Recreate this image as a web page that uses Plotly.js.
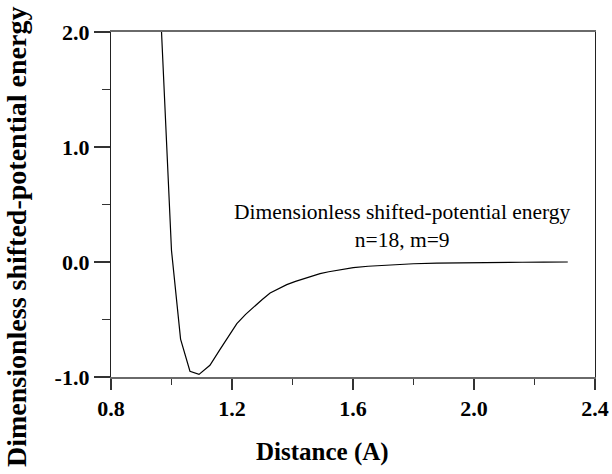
<!DOCTYPE html>
<html>
<head>
<meta charset="utf-8">
<script src="https://cdn.plot.ly/plotly-3.0.1.min.js"></script>
<style>
  html, body { margin: 0; padding: 0; background: #fff; }
  #plot { width: 612px; height: 474px; }
</style>
</head>
<body>
<div id="plot"></div>
<script>
// Mie-type pair potential, n=18, m=9 (reduced units)
const distance = [0.967, 1.000, 1.030, 1.061, 1.091, 1.127, 1.160, 1.190, 1.216, 1.245,
                  1.271, 1.300, 1.326, 1.355, 1.381, 1.410, 1.436, 1.465, 1.491, 1.520,
                  1.546, 1.575, 1.601, 1.650, 1.700, 1.750, 1.800, 1.877, 1.950, 2.020,
                  2.090, 2.160, 2.230, 2.310];
const energy   = [2.000, 0.100, -0.670, -0.950, -0.977, -0.898, -0.762, -0.640, -0.536, -0.455,
                  -0.391, -0.326, -0.270, -0.230, -0.197, -0.168, -0.145, -0.120, -0.101, -0.085,
                  -0.072, -0.060, -0.049, -0.037, -0.028, -0.021, -0.015, -0.009, -0.006, -0.004,
                  -0.003, -0.002, -0.001, 0.000];

const xTickVals = [0.8, 1.2, 1.6, 2.0, 2.4];
const xTickText = ['0.8', '1.2', '1.6', '2.0', '2.4'];
const yTickVals = [-1.0, 0.0, 1.0, 2.0];
const yTickText = ['-1.0', '0.0', '1.0', '2.0'];

const xTitle = 'Distance (A)';
const yTitle = 'Dimensionless shifted-potential energy';
const curveLabel = 'Dimensionless shifted-potential energy<br>n=18, m=9';

const serif = '"Liberation Serif", "Times New Roman", Times, serif';

const trace = {
  x: distance,
  y: energy,
  type: 'scatter',
  mode: 'lines',
  line: { color: '#000', width: 1.2 },
  hoverinfo: 'skip',
  cliponaxis: true
};

const layout = {
  width: 612,
  height: 474,
  margin: { l: 111, r: 17, t: 32, b: 97 },
  paper_bgcolor: '#fff',
  plot_bgcolor: '#fff',
  showlegend: false,
  font: { family: serif, color: '#000' },
  xaxis: {
    range: [0.8, 2.4],
    tickmode: 'array',
    tickvals: xTickVals,
    ticktext: xTickText,
    ticks: 'outside',
    ticklen: 11,
    tickwidth: 1.2,
    tickcolor: '#333',
    minor: { dtick: 0.2, ticks: 'outside', ticklen: 6, tickwidth: 1.2, tickcolor: '#333' },
    showline: true,
    linecolor: '#6a6a6a',
    linewidth: 2,
    mirror: true,
    showgrid: false,
    zeroline: false,
    tickfont: { family: serif, size: 22, weight: 'bold', color: '#000' }
  },
  yaxis: {
    range: [-1.0, 2.0],
    tickmode: 'array',
    tickvals: yTickVals,
    ticktext: yTickText,
    ticks: 'outside',
    ticklen: 16,
    tickwidth: 1.2,
    tickcolor: '#333',
    minor: { dtick: 0.5, ticks: 'outside', ticklen: 8, tickwidth: 1.2, tickcolor: '#333' },
    showline: true,
    linecolor: '#222',
    linewidth: 1.2,
    mirror: true,
    showgrid: false,
    zeroline: false,
    tickfont: { family: serif, size: 22, weight: 'bold', color: '#000' }
  },
  annotations: [
    {
      // axis titles, placed on the page rather than centred on the plot area
      x: 0.436, y: -0.217, xref: 'paper', yref: 'paper',
      xanchor: 'center', yanchor: 'middle',
      text: xTitle, showarrow: false,
      font: { family: serif, size: 25, weight: 'bold', color: '#000' }
    },
    {
      x: -0.194, y: 0.406, xref: 'paper', yref: 'paper',
      xanchor: 'center', yanchor: 'middle', textangle: -90,
      text: yTitle, showarrow: false,
      font: { family: serif, size: 28, weight: 'bold', color: '#000' }
    },
    {
      x: 1.762, y: 0.31, xref: 'x', yref: 'y',
      text: curveLabel, showarrow: false, align: 'center',
      font: { family: serif, size: 21.5, color: '#000' }
    }
  ]
};

Plotly.newPlot('plot', [trace], layout, { staticPlot: true, displayModeBar: false });
</script>
</body>
</html>
